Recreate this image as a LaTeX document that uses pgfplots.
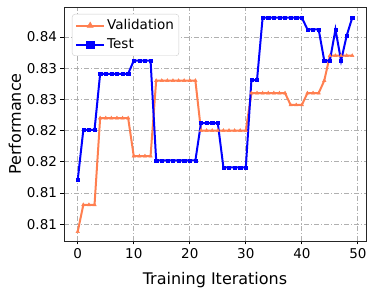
\documentclass[border=0pt]{standalone}
\usepackage{pgfplots}
\pgfplotsset{compat=1.18}
\usepackage{fontspec}
\setmainfont{DejaVu Sans}
\definecolor{coral}{RGB}{255,127,80}
\definecolor{gridgray}{RGB}{176,176,176}
\begin{document}
\begin{tikzpicture}[x=1pt,y=1pt]
\path[use as bounding box] (-64,-55) rectangle (309,241);
\begin{axis}[
  at={(0,0)}, anchor=south west,
  scale only axis, width=302pt, height=234pt,
  xmin=-2.45, xmax=51.45, ymin=0.8073, ymax=0.8448,
  xtick={0,10,20,30,40,50},
  ytick={0.81,0.815,0.82,0.825,0.83,0.835,0.84},
  yticklabels={0.81,0.81,0.82,0.82,0.83,0.83,0.84},
  /pgf/number format/assume math mode=true,
  ticklabel style={font=\fontsize{13.5}{14}\selectfont},
  tick align=outside, tick pos=left, major tick length=3.5pt,
  tick style={black, line width=0.8pt},
  axis line style={black!85, line width=0.8pt},
  grid=major,
  grid style={gridgray, dash pattern=on 5pt off 2pt on 1pt off 2pt, line width=0.8pt},
  xlabel={Training Iterations}, ylabel={Performance},
  label style={font=\fontsize{16}{16}\selectfont},
  xlabel style={at={(axis description cs:0.5,0)}, anchor=center, yshift=-39pt},
  ylabel style={at={(axis description cs:-0.1623,0.5)}, anchor=center, rotate=0},
  legend style={at={(rel axis cs:0,1)}, anchor=north west, xshift=8pt, yshift=-7pt,
    draw=black!20, rounded corners=3pt, font=\fontsize{13.5}{15}\selectfont,
    inner xsep=3pt, inner ysep=3.5pt, row sep=3.5pt, legend cell align=left},
  legend image code/.code={\draw[mark repeat=2,mark phase=2,#1,mark size=3.6pt] plot coordinates {(0pt,0pt) (14pt,0pt) (28pt,0pt)};},
]
\addplot[coral, line width=2pt, mark=triangle*, mark size=2pt, mark options={fill=coral, line width=0.4pt}] coordinates {
(0,0.8088)(1,0.8131)(2,0.8131)(3,0.8131)(4,0.8270)(5,0.8270)(6,0.8270)(7,0.8270)(8,0.8270)(9,0.8270)
(10,0.8209)(11,0.8209)(12,0.8209)(13,0.8209)(14,0.8330)(15,0.8330)(16,0.8330)(17,0.8330)(18,0.8330)(19,0.8330)
(20,0.8330)(21,0.8330)(22,0.8250)(23,0.8250)(24,0.8250)(25,0.8250)(26,0.8250)(27,0.8250)(28,0.8250)(29,0.8250)
(30,0.8250)(31,0.8310)(32,0.8310)(33,0.8310)(34,0.8310)(35,0.8310)(36,0.8310)(37,0.8310)(38,0.8291)(39,0.8291)
(40,0.8291)(41,0.8310)(42,0.8310)(43,0.8310)(44,0.8330)(45,0.8370)(46,0.8370)(47,0.8370)(48,0.8370)(49,0.8370)
};
\addlegendentry{Validation}
\addplot[blue, line width=2pt, mark=square*, mark size=1.6pt, mark options={fill=blue, line width=0.4pt}] coordinates {
(0,0.8171)(1,0.8251)(2,0.8251)(3,0.8251)(4,0.8341)(5,0.8341)(6,0.8341)(7,0.8341)(8,0.8341)(9,0.8341)
(10,0.8362)(11,0.8362)(12,0.8362)(13,0.8362)(14,0.8202)(15,0.8202)(16,0.8202)(17,0.8202)(18,0.8202)(19,0.8202)
(20,0.8202)(21,0.8202)(22,0.8262)(23,0.8262)(24,0.8262)(25,0.8262)(26,0.8191)(27,0.8191)(28,0.8191)(29,0.8191)
(30,0.8191)(31,0.8331)(32,0.8331)(33,0.8431)(34,0.8431)(35,0.8431)(36,0.8431)(37,0.8431)(38,0.8431)(39,0.8431)
(40,0.8431)(41,0.8412)(42,0.8412)(43,0.8412)(44,0.8362)(45,0.8362)(46,0.8412)(47,0.8362)(48,0.8402)(49,0.8431)
};
\addlegendentry{Test}
\end{axis}
\end{tikzpicture}
\end{document}
